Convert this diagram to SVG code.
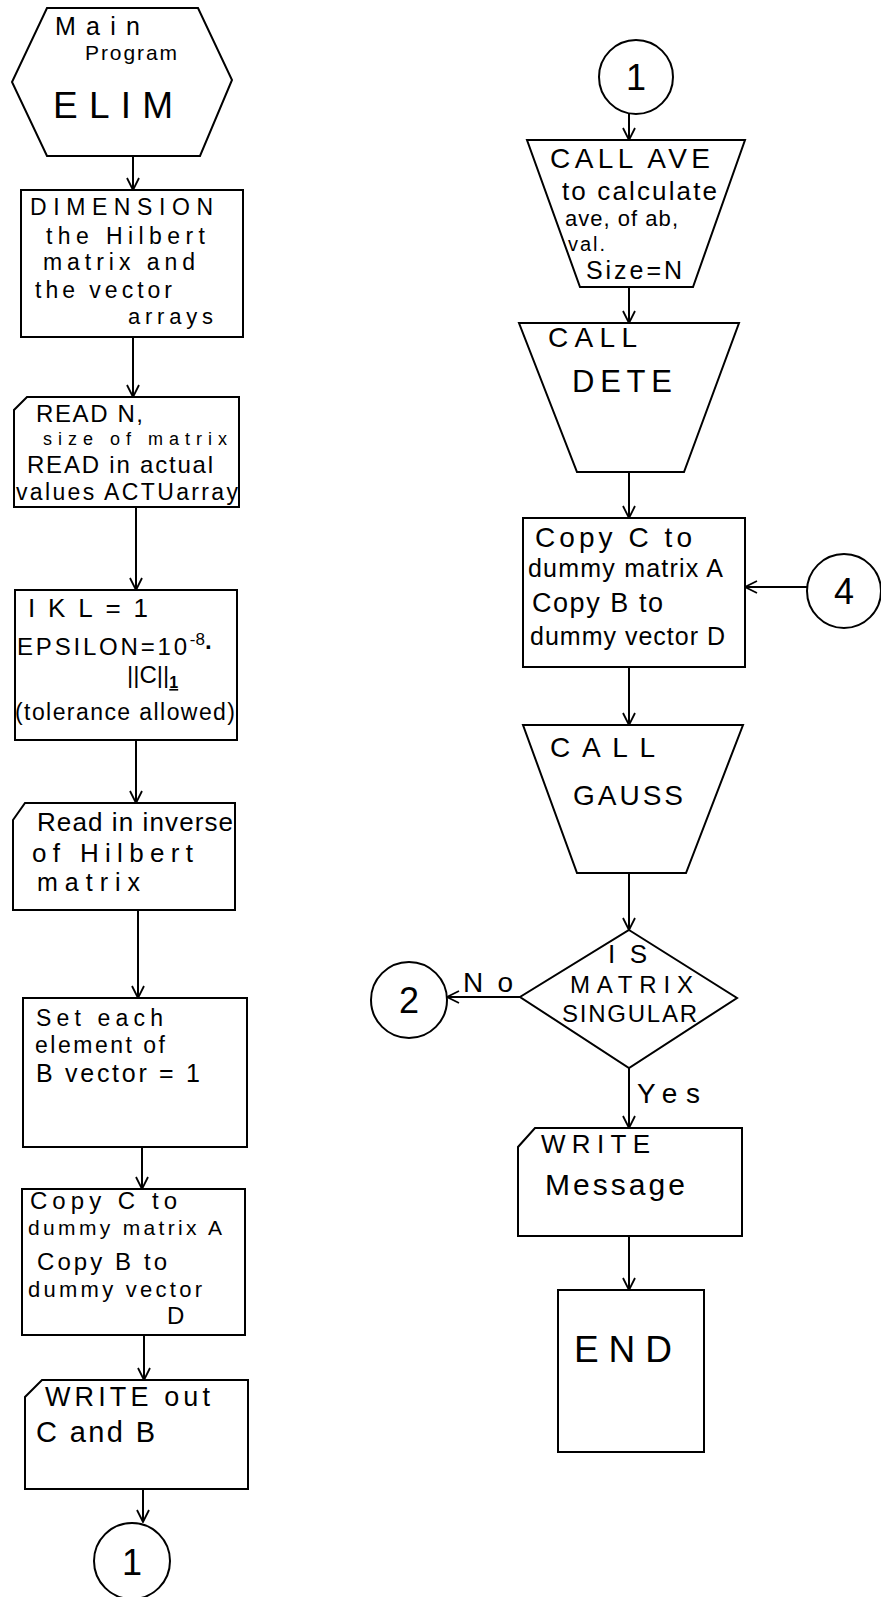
<svg xmlns="http://www.w3.org/2000/svg" width="881" height="1597" viewBox="0 0 881 1597" font-size="22">
<defs>
<style>
.s{fill:#fff;stroke:#000;stroke-width:2;stroke-linejoin:miter}
.c{fill:none;stroke:#000;stroke-width:2}
text{font-family:"Liberation Sans","DejaVu Sans",sans-serif;fill:#000}
.m{text-anchor:middle}
</style>
<marker id="ah" viewBox="0 0 14 14" markerWidth="14" markerHeight="14" refX="13" refY="7" orient="auto" markerUnits="userSpaceOnUse">
<path d="M1,1 L13,7 L1,13" fill="none" stroke="#000" stroke-width="1.8"/>
</marker>
</defs>
<rect width="881" height="1597" fill="#fff"/>

<g id="connectors" class="c" marker-end="url(#ah)">
<line x1="133" y1="156" x2="133" y2="190"/>
<line x1="133" y1="337" x2="133" y2="397"/>
<line x1="136" y1="507" x2="136" y2="590"/>
<line x1="136" y1="740" x2="136" y2="803"/>
<line x1="138" y1="910" x2="138" y2="998"/>
<line x1="142" y1="1147" x2="142" y2="1189"/>
<line x1="144" y1="1335" x2="144" y2="1380"/>
<line x1="143" y1="1489" x2="143" y2="1522"/>
<line x1="629" y1="114" x2="629" y2="140"/>
<line x1="629" y1="287" x2="629" y2="323"/>
<line x1="629" y1="472" x2="629" y2="518"/>
<line x1="807" y1="587" x2="745" y2="587"/>
<line x1="629" y1="667" x2="629" y2="725"/>
<line x1="629" y1="873" x2="629" y2="930"/>
<line x1="520" y1="997" x2="447" y2="997"/>
<line x1="629" y1="1068" x2="629" y2="1128"/>
<line x1="629" y1="1236" x2="629" y2="1290"/>
</g>

<g id="main-program">
<polygon class="s" points="47,8 198,8 232,80 200,156 47,156 12,82"/>
<text x="55" y="35" font-size="25" textLength="85">Main</text>
<text x="85" y="60" font-size="21" textLength="92">Program</text>
<text x="53" y="118" font-size="37" textLength="120">ELIM</text>
</g>

<g id="dimension">
<rect class="s" x="21" y="190" width="222" height="147"/>
<text x="30" y="215" font-size="23" textLength="183">DIMENSION</text>
<text x="46" y="244" font-size="23" textLength="159">the Hilbert</text>
<text x="43" y="270" font-size="23" textLength="152">matrix and</text>
<text x="35" y="298" font-size="23" textLength="137">the vector</text>
<text x="128" y="324" font-size="22" textLength="85">arrays</text>
</g>

<g id="read-n">
<polygon class="s" points="27,397 239,397 239,507 14,507 14,410"/>
<text x="36" y="422" font-size="24" textLength="107">READ N,</text>
<text x="43" y="445" font-size="18" textLength="184">size of matrix</text>
<text x="27" y="473" font-size="24" textLength="186">READ in actual</text>
<text x="16" y="500" font-size="23" textLength="222">values ACTUarray</text>
</g>

<g id="ikl">
<rect class="s" x="15" y="590" width="222" height="150"/>
<text x="28" y="617" font-size="26" textLength="120">IKL=1</text>
<text x="17" y="655" font-size="24"><tspan textLength="170">EPSILON=10</tspan><tspan dy="-10" font-size="17">-8</tspan><tspan dy="10" font-weight="bold">·</tspan></text>
<text x="127" y="683" font-size="24">||C||<tspan dy="5" font-size="16" font-weight="bold" text-decoration="underline">1</tspan></text>
<text x="15" y="720" font-size="23" textLength="220">(tolerance allowed)</text>
</g>

<g id="read-inverse">
<polygon class="s" points="25,803 235,803 235,910 13,910 13,820"/>
<text x="37" y="831" font-size="26" textLength="196">Read in inverse</text>
<text x="32" y="862" font-size="26" textLength="161">of Hilbert</text>
<text x="37" y="891" font-size="25" textLength="103">matrix</text>
</g>

<g id="set-b">
<rect class="s" x="23" y="998" width="224" height="149"/>
<text x="36" y="1026" font-size="23" textLength="127">Set each</text>
<text x="35" y="1053" font-size="23" textLength="130">element of</text>
<text x="36" y="1082" font-size="25" textLength="164">B vector = 1</text>
</g>

<g id="copy-left">
<rect class="s" x="22" y="1189" width="223" height="146"/>
<text x="30" y="1209" font-size="24" textLength="147">Copy C to</text>
<text x="28" y="1235" font-size="21" textLength="194">dummy matrix A</text>
<text x="37" y="1270" font-size="24" textLength="130">Copy B to</text>
<text x="28" y="1297" font-size="22" textLength="174">dummy vector</text>
<text x="167" y="1324" font-size="24">D</text>
</g>

<g id="write-out">
<polygon class="s" points="42,1380 248,1380 248,1489 25,1489 25,1397"/>
<text x="45" y="1406" font-size="27" textLength="165">WRITE out</text>
<text x="36" y="1442" font-size="29" textLength="119">C and B</text>
</g>

<g id="connector-1-out">
<circle class="s" cx="132" cy="1561" r="38"/>
<text class="m" x="132" y="1575" font-size="36">1</text>
</g>

<g id="connector-1-in">
<circle class="s" cx="636" cy="77" r="37"/>
<text class="m" x="636" y="90" font-size="36">1</text>
</g>

<g id="call-ave">
<polygon class="s" points="527,140 745,140 693,287 580,287"/>
<text x="550" y="168" font-size="28" textLength="160">CALL AVE</text>
<text x="562" y="200" font-size="26" textLength="155">to calculate</text>
<text x="565" y="226" font-size="22" textLength="113">ave, of ab,</text>
<text x="568" y="251" font-size="20" textLength="37">val.</text>
<text x="586" y="279" font-size="25" textLength="96">Size=N</text>
</g>

<g id="call-dete">
<polygon class="s" points="519,323 739,323 684,472 577,472"/>
<text x="548" y="347" font-size="28" textLength="89">CALL</text>
<text x="572" y="392" font-size="31" textLength="100">DETE</text>
</g>

<g id="copy-right">
<rect class="s" x="523" y="518" width="222" height="149"/>
<text x="535" y="547" font-size="28" textLength="157">Copy C to</text>
<text x="528" y="577" font-size="25" textLength="195">dummy matrix A</text>
<text x="532" y="612" font-size="27" textLength="131">Copy B to</text>
<text x="530" y="645" font-size="25" textLength="195">dummy vector D</text>
</g>

<g id="connector-4">
<circle class="s" cx="844" cy="591" r="37"/>
<text class="m" x="844" y="604" font-size="36">4</text>
</g>

<g id="call-gauss">
<polygon class="s" points="523,725 743,725 686,873 577,873"/>
<text x="550" y="757" font-size="28" textLength="105">CALL</text>
<text x="573" y="805" font-size="28" textLength="110">GAUSS</text>
</g>

<g id="is-singular">
<polygon class="s" points="629,930 737,998 629,1068 520,997"/>
<text x="608" y="963" font-size="26" textLength="39">IS</text>
<text x="570" y="993" font-size="24" textLength="123">MATRIX</text>
<text x="562" y="1022" font-size="24" textLength="135">SINGULAR</text>
</g>

<g id="connector-2">
<circle class="s" cx="409" cy="1000" r="38"/>
<text class="m" x="409" y="1013" font-size="36">2</text>
</g>

<g id="labels">
<text x="463" y="992" font-size="28" textLength="50">No</text>
<text x="637" y="1103" font-size="28" textLength="63">Yes</text>
</g>

<g id="write-message">
<polygon class="s" points="535,1128 742,1128 742,1236 518,1236 518,1147"/>
<text x="541" y="1153" font-size="26" textLength="109">WRITE</text>
<text x="545" y="1195" font-size="30" textLength="140">Message</text>
</g>

<g id="end">
<rect class="s" x="558" y="1290" width="146" height="162"/>
<text x="574" y="1362" font-size="37" textLength="98">END</text>
</g>
</svg>
